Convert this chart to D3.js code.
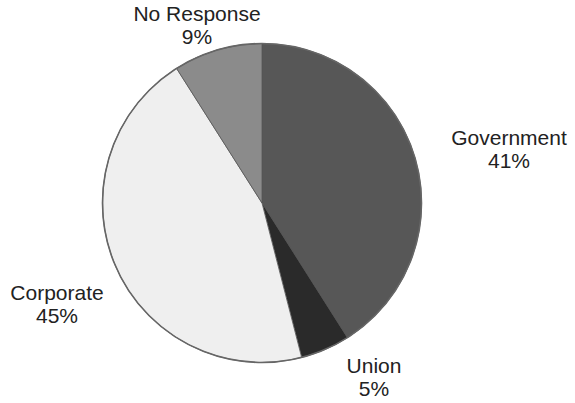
<!DOCTYPE html>
<html>
<head>
<meta charset="utf-8">
<script src="https://cdn.jsdelivr.net/npm/d3@7"></script>
<style>
  html, body { margin: 0; padding: 0; background: #fff; }
  svg { display: block; }
  text { font-family: "Liberation Sans", Arial, Helvetica, sans-serif; fill: #222; }
</style>
</head>
<body>
<svg id="chart" width="575" height="403"></svg>
<script>
const categories = ["Government", "Union", "Corporate", "No Response"];
const values = [41, 5, 45, 9];
const valueLabels = ["41%", "5%", "45%", "9%"];
const colors = ["#575757", "#2a2a2a", "#efefef", "#8b8b8b"];
// label anchor positions (x center, baseline of first line)
const labelPos = [[509, 145], [374, 373], [57, 300], [197, 21]];

const svg = d3.select("#chart");
const cx = 262, cy = 203, r = 159.5;

const pie = d3.pie().sort(null).value(d => d.v).startAngle(0).endAngle(2 * Math.PI);
const data = categories.map((c, i) => ({ c, v: values[i], i }));
const arcs = pie(data);
const arc = d3.arc().innerRadius(0).outerRadius(r);

const g = svg.append("g").attr("transform", `translate(${cx},${cy})`);
g.selectAll("path.slice")
  .data(arcs)
  .join("path")
  .attr("class", "slice")
  .attr("d", arc)
  .attr("fill", d => colors[d.data.i])
  .attr("stroke", "#555")
  .attr("stroke-width", 0.8)
  .attr("stroke-linejoin", "round");

g.append("circle")
  .attr("r", r)
  .attr("fill", "none")
  .attr("stroke", "#666")
  .attr("stroke-width", 1.6);

const lbl = svg.selectAll("g.lbl")
  .data(data)
  .join("g")
  .attr("class", "lbl");
lbl.append("text")
  .attr("x", d => labelPos[d.i][0])
  .attr("y", d => labelPos[d.i][1])
  .attr("text-anchor", "middle")
  .attr("font-size", 21)
  .text(d => d.c);
lbl.append("text")
  .attr("x", d => labelPos[d.i][0])
  .attr("y", d => labelPos[d.i][1] + 23)
  .attr("text-anchor", "middle")
  .attr("font-size", 21)
  .text(d => valueLabels[d.i]);
</script>
</body>
</html>
